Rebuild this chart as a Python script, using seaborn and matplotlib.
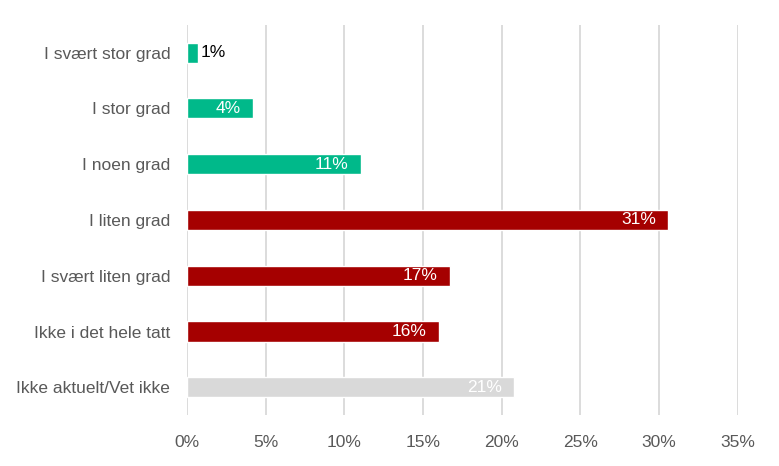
import pandas as pd
import matplotlib.pyplot as plt
import seaborn as sns

# Data
categories = ["I svært stor grad", "I stor grad", "I noen grad", "I liten grad",
              "I svært liten grad", "Ikke i det hele tatt", "Ikke aktuelt/Vet ikke"]
values = [0.7, 4.2, 11.05, 30.6, 16.7, 16.0, 20.8]
value_labels = ["1%", "4%", "11%", "31%", "17%", "16%", "21%"]
groups = ["pos", "pos", "pos", "neg", "neg", "neg", "na"]
x_ticks = [0, 5, 10, 15, 20, 25, 30, 35]

palette = {"pos": "#00B98A", "neg": "#A50000", "na": "#D9D9D9"}

df = pd.DataFrame({"category": categories, "value": values, "group": groups})

sns.set_style("white")
plt.rcParams['font.family'] = ['Liberation Sans', 'DejaVu Sans']

fig = plt.figure(figsize=(7.79, 4.66), dpi=100)
ax = fig.add_axes([0.240, 0.109, 0.707, 0.838])

sns.barplot(data=df, x="value", y="category", hue="group", palette=palette,
            dodge=False, legend=False, width=0.36, saturation=1, ax=ax, zorder=3)

ax.set_xlim(0, 35)
ax.set_xticks(x_ticks)
ax.set_xticklabels([f"{t}%" for t in x_ticks])
ax.grid(axis="x", color="#D9D9D9", linewidth=1.3, zorder=0)
ax.set_axisbelow(True)
for s in ax.spines.values():
    s.set_visible(False)
ax.set_xlabel("")
ax.set_ylabel("")
ax.tick_params(axis="both", length=0, labelcolor="#595959", labelsize=12.5)
ax.tick_params(axis="y", pad=12)
ax.tick_params(axis="x", pad=14)

# value labels
for i, (v, lab) in enumerate(zip(values, value_labels)):
    if v < 2:
        ax.text(v + 0.2, i, lab, ha="left", va="center", color="black", fontsize=12.5)
    else:
        ax.text(v - 0.8, i, lab, ha="right", va="center", color="white", fontsize=12.5)

fig.savefig("out.png", dpi=100)
